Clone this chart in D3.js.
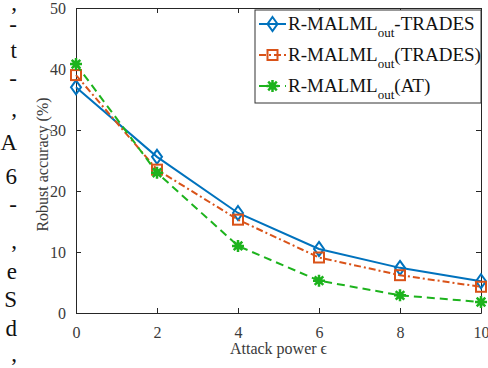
<!DOCTYPE html>
<html>
<head>
<meta charset="utf-8">
<script src="https://cdn.jsdelivr.net/npm/d3@7"></script>
<style>
  body { margin: 0; background: #fff; }
  svg text { font-family: "Liberation Serif", "DejaVu Serif", serif; }
</style>
</head>
<body>
<svg id="chart" width="488" height="368"></svg>
<script>
var eps = [0, 2, 4, 6, 8, 10];
var tradesMeta = [37.0, 25.6, 16.4, 10.5, 7.4, 5.2];
var tradesInner = [39.0, 23.5, 15.3, 9.1, 6.2, 4.3];
var atInner = [40.8, 23.0, 11.0, 5.3, 2.9, 1.8];
var xTicks = [0, 2, 4, 6, 8, 10];
var yTicks = [0, 10, 20, 30, 40, 50];

// leftover glyphs from the neighbouring text column
var sideChars = [",", "-", "t", "-", ",", "A", "6", "-", ",", "e", "S", "d", ","];
var sideY = [10, 32, 58, 86, 116, 150, 184, 212, 248, 279, 307, 336, 361];

var svg = d3.select("#chart");

svg.selectAll(".side")
    .data(sideChars)
  .enter().append("text")
    .attr("class", "side")
    .attr("x", 17)
    .attr("y", function(d, i) { return sideY[i]; })
    .attr("text-anchor", "end")
    .attr("font-size", 23)
    .attr("fill", "#111")
    .text(function(d) { return d; });

var margin = {left: 76, top: 8, right: 7, bottom: 55},
    width = 488 - margin.left - margin.right,
    height = 368 - margin.top - margin.bottom;

var g = svg.append("g")
    .attr("transform", "translate(" + margin.left + "," + margin.top + ")");

var x = d3.scaleLinear().domain([0, 10]).range([0, width]);
var y = d3.scaleLinear().domain([0, 50]).range([height, 0]);

var axisCol = "#262626";

// inward ticks on all four sides
g.append("g")
    .attr("transform", "translate(0," + height + ")")
    .call(d3.axisBottom(x).tickValues(xTicks).tickSizeInner(-5).tickSizeOuter(0).tickPadding(14))
    .call(function(a) {
      a.select(".domain").attr("stroke", axisCol);
      a.selectAll(".tick line").attr("stroke", axisCol);
      a.selectAll("text").attr("font-size", 16).attr("fill", "#3a3a3a");
    });
g.append("g")
    .call(d3.axisTop(x).tickValues(xTicks).tickSizeInner(-5).tickSizeOuter(0).tickFormat(""))
    .call(function(a) {
      a.select(".domain").attr("stroke", axisCol);
      a.selectAll(".tick line").attr("stroke", axisCol);
    });
g.append("g")
    .call(d3.axisLeft(y).tickValues(yTicks).tickSizeInner(-5).tickSizeOuter(0).tickPadding(10))
    .call(function(a) {
      a.select(".domain").attr("stroke", axisCol);
      a.selectAll(".tick line").attr("stroke", axisCol);
      a.selectAll("text").attr("font-size", 16).attr("fill", "#3a3a3a");
    });
g.append("g")
    .attr("transform", "translate(" + width + ",0)")
    .call(d3.axisRight(y).tickValues(yTicks).tickSizeInner(-5).tickSizeOuter(0).tickFormat(""))
    .call(function(a) {
      a.select(".domain").attr("stroke", axisCol);
      a.selectAll(".tick line").attr("stroke", axisCol);
    });

svg.append("text")
    .attr("transform", "translate(48," + (margin.top + height / 2 + 4) + ") rotate(-90)")
    .attr("text-anchor", "middle")
    .attr("font-size", 16)
    .attr("fill", "#3a3a3a")
    .text("Robust accuracy (%)");

svg.append("text")
    .attr("x", margin.left + width / 2)
    .attr("y", 354)
    .attr("text-anchor", "middle")
    .attr("font-size", 16)
    .attr("fill", "#3a3a3a")
    .text("Attack power \u03f5");

var series = [
  {name: "-TRADES", values: tradesMeta, color: "#0072BD", dash: null, marker: "diamond"},
  {name: "(TRADES)", values: tradesInner, color: "#D95319", dash: "7,3,2,3", marker: "square"},
  {name: "(AT)", values: atInner, color: "#1DB31D", dash: "8,5", marker: "star"}
];

var line = d3.line()
    .x(function(d, i) { return x(eps[i]); })
    .y(function(d) { return y(d); });

function drawMarker(sel, type, color) {
  if (type === "diamond") {
    sel.append("path").attr("d", "M0,-7L5,0L0,7L-5,0Z")
      .attr("fill", "none").attr("stroke", color).attr("stroke-width", 2);
  } else if (type === "square") {
    sel.append("rect").attr("x", -5).attr("y", -5).attr("width", 10).attr("height", 10)
      .attr("fill", "none").attr("stroke", color).attr("stroke-width", 2);
  } else {
    sel.append("path")
      .attr("d", "M0,-6V6M-6,0H6M-4.3,-4.3L4.3,4.3M-4.3,4.3L4.3,-4.3")
      .attr("stroke", color).attr("stroke-width", 2.5);
    sel.append("circle").attr("r", 3.5).attr("fill", color);
  }
}

series.forEach(function(s) {
  g.append("path")
      .datum(s.values)
      .attr("fill", "none")
      .attr("stroke", s.color)
      .attr("stroke-width", 2)
      .attr("stroke-dasharray", s.dash)
      .attr("d", line);
  g.selectAll(null)
      .data(s.values)
    .enter().append("g")
      .attr("transform", function(d, i) { return "translate(" + x(eps[i]) + "," + y(d) + ")"; })
      .each(function() { drawMarker(d3.select(this), s.marker, s.color); });
});

// legend
var leg = svg.append("g").attr("transform", "translate(255,10)");
leg.append("rect")
    .attr("width", 226).attr("height", 93)
    .attr("fill", "#fff").attr("stroke", "#333").attr("stroke-width", 1);

series.forEach(function(s, i) {
  var row = leg.append("g").attr("transform", "translate(0," + (14 + i * 31) + ")");
  row.append("line")
      .attr("x1", 4).attr("x2", 31)
      .attr("stroke", s.color).attr("stroke-width", 2)
      .attr("stroke-dasharray", s.dash);
  drawMarker(row.append("g").attr("transform", "translate(17.5,0)"), s.marker, s.color);
  var t = row.append("text")
      .attr("x", 33).attr("y", 6)
      .attr("font-size", 19)
      .attr("fill", "#111");
  t.append("tspan").text("R-MALML");
  t.append("tspan").attr("font-size", 13).attr("dy", 7).text("out");
  t.append("tspan").attr("dy", -7).text(s.name);
});
</script>
</body>
</html>
